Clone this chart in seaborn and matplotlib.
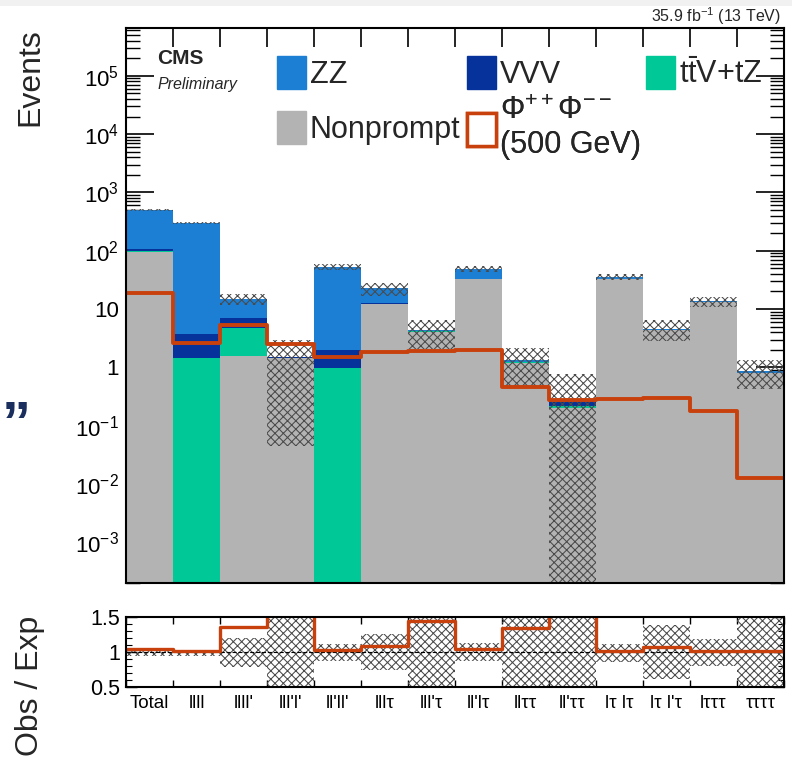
import numpy as np
import pandas as pd
import matplotlib
matplotlib.use("Agg")
import matplotlib.pyplot as plt
import seaborn as sns
from matplotlib.patches import Patch, Rectangle
from matplotlib.ticker import LogLocator, NullFormatter, FuncFormatter, FixedLocator, MultipleLocator

# ---------------- data ----------------
categories = ["Total", "llll", "llll'", "lll'l'", "ll'll'", "lllτ", "lll'τ",
              "ll'lτ", "llττ", "ll'ττ", "lτ lτ", "lτ l'τ", "lτττ", "ττττ"]
nonprompt = [95, 0, 1.55, 1.45, 0, 12.3, 4.0, 33, 1.2, 0.20, 33, 4.3, 13.0, 0.79]
ttv       = [4, 1.45, 3.2, 0.02, 0.98, 0.1, 0.15, 0.1, 0.02, 0.02, 0.05, 0.05, 0.05, 0.0]
vvv       = [6, 2.3, 2.3, 0.02, 0.97, 0.1, 0.05, 0.1, 0.03, 0.03, 0.2, 0.05, 0.1, 0.01]
zz        = [395, 296, 8, 0.01, 51, 10, 0.1, 15.8, 0.07, 0.04, 2.75, 0.2, 0.35, 0.08]
signal    = [19, 2.6, 5.4, 2.5, 1.5, 1.8, 1.9, 2.0, 0.46, 0.28, 0.29, 0.30, 0.18, 0.0125]
unc_lo    = [0.95, 0.95, 0.78, 0.03, 0.87, 0.74, 0.48, 0.87, 0.33, 0.0, 0.86, 0.62, 0.80, 0.48]
unc_hi    = [1.03, 1.03, 1.20, 1.93, 1.11, 1.25, 1.52, 1.13, 1.60, 2.70, 1.11, 1.39, 1.18, 1.52]
y_ticks   = [1e-3, 1e-2, 1e-1, 1, 10, 1e2, 1e3, 1e4, 1e5]
ratio_ticks = [0.5, 1, 1.5]

legend_labels = ["ZZ", "VVV", r"$\mathrm{t\bar{t}}$V+tZ", "Nonprompt",
                 r"$\Phi^{++}\Phi^{--}$" + "\n(500 GeV)"]

# colours
c_zz, c_vvv, c_ttv, c_np, c_sig = "#1c7fd3", "#06329b", "#00c896", "#b3b3b3", "#c8400c"

# ---------------- derived ----------------
nb = len(categories)
edges = np.arange(nb + 1)
bin_edges = [float(e) for e in edges]
pos = edges[:-1] + 0.5
df = pd.DataFrame({"pos": pos, "np": nonprompt, "ttv": ttv, "vvv": vvv, "zz": zz, "sig": signal})
df["c_np"] = df["np"]
df["c_ttv"] = df["c_np"] + df["ttv"]
df["c_vvv"] = df["c_ttv"] + df["vvv"]
df["c_zz"] = df["c_vvv"] + df["zz"]
total = df["c_zz"].to_numpy()
df["ratio"] = (df["c_zz"] + df["sig"]) / df["c_zz"]
lo = np.array(unc_lo)
hi = np.array(unc_hi)

# ---------------- style ----------------
sns.set_theme(style="ticks")
plt.rcParams["font.family"] = ["Liberation Sans", "DejaVu Sans"]
plt.rcParams["mathtext.fontset"] = "custom"
plt.rcParams["mathtext.rm"] = "Liberation Sans"
plt.rcParams["mathtext.it"] = "Liberation Sans:italic"
plt.rcParams["mathtext.bf"] = "Liberation Sans:bold"
plt.rcParams["hatch.linewidth"] = 0.75
plt.rcParams["axes.edgecolor"] = "black"
plt.rcParams["xtick.color"] = "black"
plt.rcParams["ytick.color"] = "black"

W, H = 792, 758
fig = plt.figure(figsize=(W / 100, H / 100), dpi=100)
fig.patch.set_facecolor("white")
fig.patches.append(Rectangle((0, 1 - 6 / H), 1, 6 / H, transform=fig.transFigure,
                             facecolor="#f1f1f1", edgecolor="none", zorder=-5))

L, R = 126, 784
ax = fig.add_axes([L / W, 1 - 583 / H, (R - L) / W, (583 - 28) / H])
rax = fig.add_axes([L / W, 1 - 687 / H, (R - L) / W, 70 / H])

ax.set_yscale("log")

# stacked backgrounds (cumulative layers drawn from top to bottom)
for col, c in [("c_zz", c_zz), ("c_vvv", c_vvv), ("c_ttv", c_ttv), ("c_np", c_np)]:
    sns.histplot(data=df, x="pos", weights=col, bins=bin_edges, element="bars", fill=True,
                 color=c, alpha=1, linewidth=0, edgecolor="none", ax=ax, zorder=1)

hatch_col = "#4a4a4a"
# uncertainty band
ax.bar(pos, total * (hi - lo), bottom=total * lo, width=1, fill=False, hatch="xxxx",
       edgecolor=hatch_col, linewidth=0, zorder=3)

# signal
sns.histplot(data=df, x="pos", weights="sig", bins=bin_edges, element="step", fill=False,
             color=c_sig, linewidth=2.8, ax=ax, zorder=4)

ax.set_xlim(0, nb)
ax.set_ylim(2e-4, 6.6e5)
ax.set_xlabel("")
ax.set_ylabel("")
ax.set_xticks(edges)
ax.tick_params(axis="x", which="major", direction="in", length=14, width=1.2,
               top=True, bottom=True, labelbottom=False)
ax.yaxis.set_major_locator(FixedLocator(y_ticks))
ax.yaxis.set_minor_locator(LogLocator(base=10, subs=np.arange(2, 10) * 1.0, numticks=200))
ax.yaxis.set_minor_formatter(NullFormatter())


def logfmt(v, p):
    k = int(round(np.log10(v)))
    if k == 0:
        return "1"
    if k == 1:
        return "10"
    return r"$10^{%d}$" % k


ax.yaxis.set_major_formatter(FuncFormatter(logfmt))
ax.tick_params(axis="y", which="major", direction="in", length=20, width=1.2,
               left=True, right=True, labelsize=16, pad=5)
ax.tick_params(axis="y", which="minor", direction="in", length=10, width=1,
               left=True, right=True)
for s in ax.spines.values():
    s.set_linewidth(1.5)
    s.set_zorder(6)

# ---------------- ratio panel ----------------
rax.bar(pos, hi - lo, bottom=lo, width=1, fill=False, hatch="xxxx",
        edgecolor=hatch_col, linewidth=0, zorder=2)
rax.axhline(1, ls="--", color="black", lw=0.8, zorder=3)
sns.histplot(data=df, x="pos", weights="ratio", bins=bin_edges, element="step", fill=False,
             color=c_sig, linewidth=2.4, ax=rax, zorder=4)
rax.set_xlim(0, nb)
rax.set_ylim(0.5, 1.5)
rax.set_xlabel("")
rax.set_ylabel("")
rax.set_xticks(pos)
rax.set_xticklabels(categories)
rax.xaxis.set_minor_locator(FixedLocator(edges))
rax.tick_params(axis="x", which="major", length=0, labelsize=13.5, pad=6)
rax.tick_params(axis="x", which="minor", direction="in", length=5, width=1,
                top=True, bottom=True)
rax.yaxis.set_major_locator(FixedLocator(ratio_ticks))
rax.yaxis.set_major_formatter(FuncFormatter(lambda v, p: "%g" % v))
rax.yaxis.set_minor_locator(MultipleLocator(0.1))
rax.tick_params(axis="y", which="major", direction="in", length=8, width=1,
                left=True, right=True, labelsize=15.5, pad=4)
rax.tick_params(axis="y", which="minor", direction="in", length=4, width=0.8,
                left=True, right=True)
for s in rax.spines.values():
    s.set_linewidth(1.5)
    s.set_zorder(6)

# ---------------- legend (one entry per legend, placed like the reference) ----------------
handles = [Patch(facecolor=c_zz, edgecolor=c_zz),
           Patch(facecolor=c_vvv, edgecolor=c_vvv),
           Patch(facecolor=c_ttv, edgecolor=c_ttv),
           Patch(facecolor=c_np, edgecolor=c_np),
           Patch(facecolor="white", edgecolor=c_sig, linewidth=2.5)]
places = [(277, 73), (467, 73), (646, 73), (277, 128), (467, 128)]
fs = 22
for h, lab, (px, py) in zip(handles, legend_labels, places):
    leg = ax.legend([h], [lab], loc="center left", bbox_to_anchor=(px / W, 1 - py / H),
                    bbox_transform=fig.transFigure, frameon=False, fontsize=fs,
                    borderpad=0, borderaxespad=0, handlelength=0.95, handleheight=1.27,
                    handletextpad=0.12, labelspacing=0.05)
    ax.add_artist(leg)

# ---------------- texts ----------------
fig.text(157 / W, 1 - 58 / H, "CMS", fontsize=15, fontweight="bold", ha="left", va="center")
fig.text(157 / W, 1 - 84 / H, "Preliminary", fontsize=11.5, fontstyle="italic",
         ha="left", va="center")
fig.text(781 / W, 1 - 16 / H, r"35.9 fb$^{-1}$ (13 TeV)", fontsize=11.5, ha="right", va="center")
fig.text(30 / W, 1 - 28 / H, "Events", fontsize=23, rotation=90, ha="center", va="top")
fig.text(30 / W, 1 - 616 / H, "Obs / Exp", fontsize=23, rotation=90, ha="center", va="top")
fig.text(16 / W, 1 - 427 / H, "”", fontsize=42, fontweight="bold", color="#1b2f5e",
         ha="center", va="center")

fig.savefig("out.png", dpi=100, facecolor="white")
